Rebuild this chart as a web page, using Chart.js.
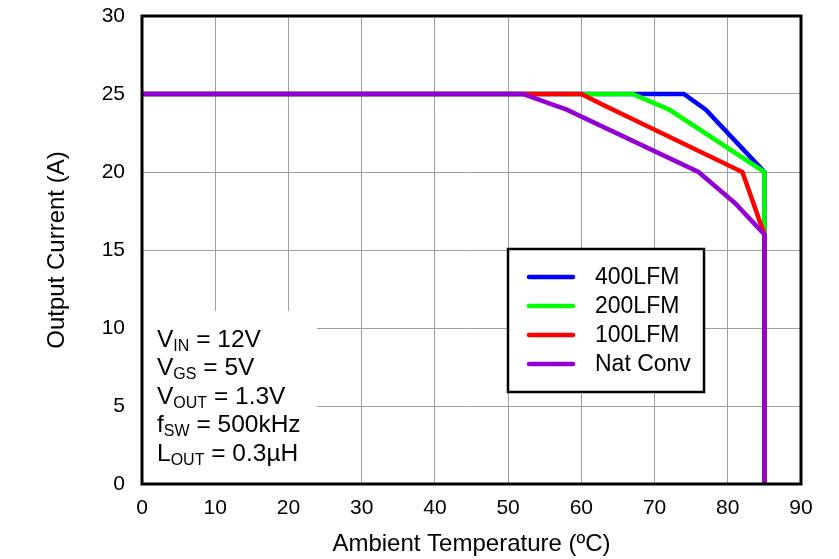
<!DOCTYPE html>
<html>
<head>
<meta charset="utf-8">
<script src="https://cdn.jsdelivr.net/npm/chart.js@4.4.1/dist/chart.umd.min.js"></script>
<style>
  html, body { margin: 0; padding: 0; background: #ffffff; }
  #wrap { width: 839px; height: 559px; position: relative; }
</style>
</head>
<body>
<div id="wrap"><canvas id="c" width="839" height="559"></canvas></div>
<script>
// ---- data ----
const seriesNames = ['400LFM', '200LFM', '100LFM', 'Nat Conv'];
const seriesColors = ['#0000ff', '#00ff00', '#ff0000', '#9400d3'];

const lfm400X = [0, 74, 77, 85, 85, 85];
const lfm400Y = [25, 25, 24, 20, 16, 0];
const lfm200X = [0, 67, 72, 85, 85, 85];
const lfm200Y = [25, 25, 24, 20, 16, 0];
const lfm100X = [0, 60, 63, 82, 85, 85];
const lfm100Y = [25, 25, 24.3, 20, 16, 0];
const natX = [0, 52, 58, 76, 81, 85, 85];
const natY = [25, 25, 24, 20, 18, 16, 0];

const xTicks = [0, 10, 20, 30, 40, 50, 60, 70, 80, 90];
const yTicks = [0, 5, 10, 15, 20, 25, 30];

const xTitle = 'Ambient Temperature (ºC)';
const yTitle = 'Output Current (A)';

// annotation lines: [main, subscript, rest]
const noteLines = [
  ['V', 'IN', ' = 12V'],
  ['V', 'GS', ' = 5V'],
  ['V', 'OUT', ' = 1.3V'],
  ['f', 'SW', ' = 500kHz'],
  ['L', 'OUT', ' = 0.3µH']
];

const FONT = '"Liberation Sans", Arial, sans-serif';

function pts(xs, ys) { return xs.map((x, i) => ({ x: x, y: ys[i] })); }

const allX = [lfm400X, lfm200X, lfm100X, natX];
const allY = [lfm400Y, lfm200Y, lfm100Y, natY];
const drawOrder = [3, 2, 1, 0]; // higher drawn first -> Nat Conv on top

const datasets = seriesNames.map((n, i) => ({
  label: n,
  data: pts(allX[i], allY[i]),
  borderColor: seriesColors[i],
  backgroundColor: seriesColors[i],
  borderWidth: 4.5,
  pointRadius: 0,
  showLine: true,
  tension: 0,
  fill: false,
  borderJoinStyle: 'miter',
  order: drawOrder[i]
}));

const overlayPlugin = {
  id: 'overlay',
  beforeDatasetsDraw(chart) {
    const ctx = chart.ctx;
    const xs = chart.scales.x, ys = chart.scales.y;
    const l = xs.getPixelForValue(0);
    const r = 317;
    const t = 311;
    const b = ys.getPixelForValue(0);
    ctx.save();
    ctx.fillStyle = '#ffffff';
    ctx.fillRect(l, t, r - l, b - t);
    ctx.restore();
  },
  afterDatasetsDraw(chart) {
    const ctx = chart.ctx;
    const a = chart.chartArea;
    ctx.save();
    ctx.strokeStyle = '#000000';
    ctx.lineWidth = 3;
    ctx.strokeRect(a.left, a.top, a.right - a.left, a.bottom - a.top);

    const lx = 508, ly = 249, lw = 196, lh = 143;
    ctx.fillStyle = '#ffffff';
    ctx.fillRect(lx, ly, lw, lh);
    ctx.lineWidth = 2.5;
    ctx.strokeStyle = '#000000';
    ctx.strokeRect(lx, ly, lw, lh);
    const rowY = [277, 306, 335, 364];
    ctx.font = '23px ' + FONT;
    ctx.textBaseline = 'middle';
    ctx.textAlign = 'left';
    seriesNames.forEach((n, i) => {
      ctx.strokeStyle = seriesColors[i];
      ctx.lineWidth = 4.5;
      ctx.lineCap = 'round';
      ctx.beginPath();
      ctx.moveTo(529, rowY[i]);
      ctx.lineTo(573, rowY[i]);
      ctx.stroke();
      ctx.fillStyle = '#000000';
      ctx.fillText(n, 595, rowY[i] + 1);
    });

    ctx.fillStyle = '#000000';
    ctx.textBaseline = 'alphabetic';
    const base0 = 347, step = 28.4, tx = 157;
    noteLines.forEach((ln, i) => {
      const by = base0 + step * i;
      let x = tx;
      ctx.font = '24.5px ' + FONT;
      ctx.fillText(ln[0], x, by);
      x += ctx.measureText(ln[0]).width;
      ctx.font = '16px ' + FONT;
      ctx.fillText(ln[1], x, by + 4);
      x += ctx.measureText(ln[1]).width;
      ctx.font = '24.5px ' + FONT;
      ctx.fillText(ln[2], x, by);
    });
    ctx.restore();
  }
};

new Chart(document.getElementById('c'), {
  type: 'scatter',
  data: { datasets: datasets },
  options: {
    responsive: false,
    animation: false,
    devicePixelRatio: 1,
    layout: { padding: { left: 0, top: 16, right: 38, bottom: 0 } },
    plugins: { legend: { display: false }, tooltip: { enabled: false } },
    scales: {
      x: {
        type: 'linear',
        min: 0, max: 90,
        afterBuildTicks(s) { s.ticks = xTicks.map(v => ({ value: v })); },
        afterFit(s) { s.height = 75; s.paddingLeft = 0; s.paddingRight = 0; },
        ticks: { color: '#000000', font: { family: FONT, size: 21 }, padding: 12, maxRotation: 0, autoSkip: false },
        grid: { color: '#a0a0a0', lineWidth: 1, drawTicks: false },
        border: { display: false },
        title: { display: true, text: xTitle, color: '#000000', font: { family: FONT, size: 24 }, padding: { top: 0, bottom: 0 } }
      },
      y: {
        type: 'linear',
        min: 0, max: 30,
        afterBuildTicks(s) { s.ticks = yTicks.map(v => ({ value: v })); },
        afterFit(s) { s.width = 142; s.paddingTop = 0; s.paddingBottom = 0; },
        ticks: { color: '#000000', font: { family: FONT, size: 21 }, padding: 17, autoSkip: false },
        grid: { color: '#a0a0a0', lineWidth: 1, drawTicks: false },
        border: { display: false },
        title: { display: true, text: yTitle, color: '#000000', font: { family: FONT, size: 24 }, padding: { top: 43, bottom: 0 } }
      }
    }
  },
  plugins: [overlayPlugin]
});
</script>
</body>
</html>
